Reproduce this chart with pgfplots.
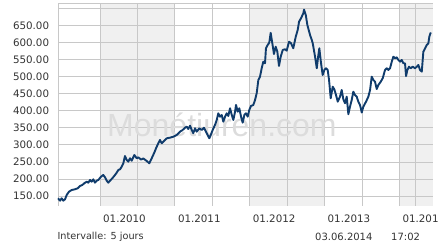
\documentclass[border=0pt]{standalone}
\usepackage{pgfplots}
\pgfplotsset{compat=1.18}
\usepackage{fontspec}
\setmainfont{DejaVu Sans}
\newfontfamily\wmfont{Liberation Sans}
\definecolor{linecol}{HTML}{103C6C}
\definecolor{shadecol}{HTML}{F0F0F0}
\definecolor{gridcol}{HTML}{C8C8C8}
\definecolor{txtcol}{HTML}{333333}
\definecolor{wmcol}{HTML}{DCDCDC}
\begin{document}
\begin{tikzpicture}
\begin{axis}[
  at={(58pt,42pt)}, anchor=south west,
  scale only axis, width=375pt, height=203pt,
  xmin=2009.439, xmax=2014.450, ymin=120.6, ymax=716.6,
  set layers,
  axis line style={draw=none},
  xtick={2010,2011,2012,2013,2014},
  xticklabels={01.2010,01.2011,01.2012,01.2013,01.2014},
  minor xtick={2010.5,2011.5,2012.5,2013.5,2014.21},
  ytick={150,200,250,300,350,400,450,500,550,600,650,700},
  yticklabels={150.00,200.00,250.00,300.00,350.00,400.00,450.00,500.00,550.00,600.00,650.00,{}},
  major tick length=0pt, minor tick length=0pt,
  grid=both,
  major grid style={gridcol, line width=0.8pt},
  minor grid style={gridcol, line width=0.8pt},
  tick label style={font=\fontsize{10.3}{12}\selectfont, text=txtcol, inner sep=0pt},
  yticklabel style={anchor=east, xshift=-8.7pt},
  xticklabel style={anchor=north west, xshift=3pt, yshift=-9pt},
  clip=false,
]
\addplot[fill=shadecol, draw=none, on layer=axis background] coordinates {(2010,120.6) (2011,120.6) (2011,716.6) (2010,716.6)} -- cycle;
\addplot[fill=shadecol, draw=none, on layer=axis background] coordinates {(2012,120.6) (2013,120.6) (2013,716.6) (2012,716.6)} -- cycle;
\addplot[fill=shadecol, draw=none, on layer=axis background] coordinates {(2014,120.6) (2014.450,120.6) (2014.450,716.6) (2014,716.6)} -- cycle;
\draw[gridcol, line width=0.8pt] (rel axis cs:0,0) -- (rel axis cs:0,1) -- (rel axis cs:1,1);
\node[anchor=base west, inner sep=0pt, text=wmcol, font=\wmfont\fontsize{32}{36}\selectfont] at (axis cs:2010.094,323.2) {Monétiuren.com};
\addplot[linecol, line width=1.9pt, line join=round, mark=none] coordinates {
(2009.440,143.2) (2009.466,136.2) (2009.488,143.2) (2009.510,136.2) (2009.533,140.3)
(2009.555,152.9) (2009.586,162.6) (2009.622,167.6) (2009.666,169.7) (2009.702,172.6)
(2009.733,179.4) (2009.764,182.3) (2009.790,187.3) (2009.823,192.0) (2009.844,189.0)
(2009.867,197.0) (2009.889,192.0) (2009.911,199.0) (2009.933,189.0) (2009.956,194.9)
(2009.978,197.0) (2010.014,206.7) (2010.044,211.7) (2010.067,204.9) (2010.090,194.9)
(2010.111,189.0) (2010.134,194.9) (2010.165,202.0) (2010.201,211.7) (2010.223,218.4)
(2010.245,226.3) (2010.268,228.4) (2010.290,236.0) (2010.312,246.0) (2010.334,267.4)
(2010.357,255.7) (2010.379,250.7) (2010.401,260.7) (2010.424,253.6) (2010.459,270.4)
(2010.491,260.7) (2010.512,263.6) (2010.548,257.0) (2010.579,260.1) (2010.624,252.8)
(2010.659,246.0) (2010.691,260.7) (2010.722,275.4) (2010.749,290.0) (2010.779,304.7)
(2010.802,314.4) (2010.825,304.7) (2010.856,311.5) (2010.892,319.4) (2010.936,321.2)
(2010.980,324.1) (2011.025,329.1) (2011.069,338.8) (2011.105,343.8) (2011.136,350.5)
(2011.159,353.5) (2011.180,346.7) (2011.203,356.4) (2011.226,343.8) (2011.247,334.1)
(2011.270,348.8) (2011.293,338.8) (2011.327,348.8) (2011.359,343.8) (2011.390,350.5)
(2011.426,334.1) (2011.461,319.4) (2011.480,329.1) (2011.506,343.8) (2011.537,358.5)
(2011.560,373.1) (2011.581,392.8) (2011.604,382.8) (2011.627,387.8) (2011.648,368.1)
(2011.671,382.8) (2011.693,392.8) (2011.715,384.9) (2011.738,407.5) (2011.761,387.8)
(2011.782,373.1) (2011.805,397.5) (2011.818,417.2) (2011.841,397.5) (2011.862,407.5)
(2011.885,382.8) (2011.907,365.2) (2011.929,387.8) (2011.951,392.8) (2011.974,382.8)
(2011.995,402.5) (2012.018,414.2) (2012.049,417.2) (2012.072,431.9) (2012.094,451.5)
(2012.116,490.6) (2012.138,500.3) (2012.161,524.9) (2012.182,544.3) (2012.205,539.6)
(2012.218,583.6) (2012.241,593.3) (2012.262,600.1) (2012.281,629.0) (2012.303,598.3)
(2012.325,566.9) (2012.348,588.3) (2012.370,573.7) (2012.392,531.7) (2012.415,559.0)
(2012.442,578.7) (2012.472,580.7) (2012.495,576.6) (2012.526,603.0) (2012.553,598.3)
(2012.583,583.6) (2012.616,617.7) (2012.642,637.4) (2012.660,661.7) (2012.686,671.7)
(2012.717,686.4) (2012.727,697.0) (2012.750,681.4) (2012.771,652.1) (2012.807,622.7)
(2012.830,608.1) (2012.843,598.3) (2012.874,559.0) (2012.897,524.9) (2012.918,564.0)
(2012.931,583.6) (2012.954,539.6) (2012.976,505.3) (2012.998,519.9) (2013.020,524.9)
(2013.043,519.9) (2013.061,490.6) (2013.083,436.8) (2013.110,470.9) (2013.131,463.3)
(2013.154,446.5) (2013.177,426.9) (2013.207,441.5) (2013.230,461.2) (2013.252,433.9)
(2013.274,422.2) (2013.297,441.5) (2013.319,390.0) (2013.341,412.2) (2013.364,431.9)
(2013.385,456.2) (2013.408,446.5) (2013.431,441.5) (2013.452,426.9) (2013.475,417.2)
(2013.498,395.0) (2013.519,412.2) (2013.555,426.9) (2013.586,441.5) (2013.609,461.2)
(2013.631,500.3) (2013.653,490.6) (2013.675,485.6) (2013.698,464.0) (2013.720,475.9)
(2013.752,485.6) (2013.778,495.6) (2013.809,519.9) (2013.832,524.9) (2013.853,519.9)
(2013.876,524.9) (2013.899,544.3) (2013.920,559.0) (2013.943,554.3) (2013.965,557.2)
(2013.987,549.3) (2014.010,544.3) (2014.032,549.3) (2014.054,539.6) (2014.076,539.6)
(2014.090,502.0) (2014.107,519.9) (2014.130,529.6) (2014.152,524.9) (2014.179,529.6)
(2014.210,524.9) (2014.233,529.6) (2014.254,534.6) (2014.277,519.9) (2014.300,515.0)
(2014.321,573.7) (2014.344,583.6) (2014.366,593.3) (2014.388,598.3) (2014.401,617.7)
(2014.420,630.0)
};
\end{axis}
\node[anchor=base west, inner sep=0pt, text=txtcol, font=\fontsize{9.7}{12}\selectfont] at (57.3pt,8pt) {Intervalle: 5 jours};
\node[anchor=base west, inner sep=0pt, text=txtcol, font=\fontsize{10}{12}\selectfont] at (315pt,7.5pt) {03.06.2014};
\node[anchor=base west, inner sep=0pt, text=txtcol, font=\fontsize{10}{12}\selectfont] at (391pt,7.5pt) {17:02};
\pgfresetboundingbox
\useasboundingbox (0,0) rectangle (439pt,248pt);
\end{tikzpicture}
\end{document}
